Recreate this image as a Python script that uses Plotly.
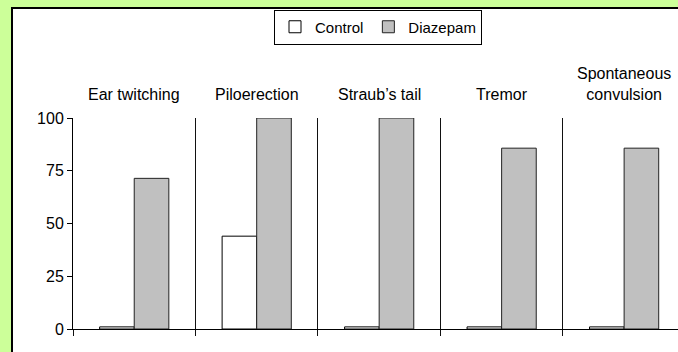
import plotly.graph_objects as go

categories = ["Ear twitching", "Piloerection", "Straub\u2019s tail", "Tremor", "Spontaneous<br>convulsion"]
control = [1, 44, 1, 1, 1]
diazepam = [71.4, 100, 100, 85.7, 85.7]
y_ticks = [0, 25, 50, 75, 100]

W, H = 678, 352
ML, MR, MT, MB = 73, 0, 118, 23
PW = W - ML - MR
PH = H - MT - MB

FONT = "Liberation Sans, Arial, sans-serif"

fig = go.Figure()
fig.add_trace(go.Bar(x=categories, y=control, name="Control",
                     marker=dict(color="white", line=dict(color="black", width=1))))
fig.add_trace(go.Bar(x=categories, y=diazepam, name="Diazepam",
                     marker=dict(color="#c0c0c0", line=dict(color="#222222", width=1))))

def px_x(p):
    return (p - ML) / PW

def px_y(p):
    return (H - MB - p) / PH

# white inner frame (left and top edges visible, rest runs off the page)
fig.add_shape(type="rect", xref="paper", yref="paper",
              x0=px_x(12), x1=px_x(W), y0=px_y(H), y1=px_y(8),
              line=dict(width=0), fillcolor="white", layer="below")
fig.add_shape(type="line", xref="paper", yref="paper",
              x0=px_x(12), x1=px_x(12), y0=px_y(H), y1=px_y(8),
              line=dict(color="black", width=2), layer="below")
fig.add_shape(type="line", xref="paper", yref="paper",
              x0=px_x(11), x1=px_x(W), y0=px_y(8), y1=px_y(8),
              line=dict(color="black", width=2), layer="below")

for c in categories:
    fig.add_annotation(x=c, xref="x", y=px_y(105), yref="paper", yanchor="bottom",
                       text=c, showarrow=False, font=dict(size=16, color="black", family=FONT))

fig.update_layout(
    width=W, height=H,
    margin=dict(l=ML, r=MR, t=MT, b=MB),
    paper_bgcolor="#ccff99", plot_bgcolor="white",
    barmode="group", bargap=0.435, bargroupgap=0,
    font=dict(family=FONT, size=16, color="black"),
    showlegend=True,
    legend=dict(orientation="h", x=px_x(378), xanchor="center", y=px_y(27), yanchor="middle",
                bgcolor="white", bordercolor="black", borderwidth=1,
                font=dict(size=15), itemwidth=30, traceorder="normal"),
    xaxis=dict(type="category", range=[-0.5, 4.44], showticklabels=False,
               tickson="boundaries", ticks="outside", ticklen=6, tickcolor="#111",
               showgrid=True, gridcolor="#111", gridwidth=1,
               showline=True, linecolor="black", linewidth=1, zeroline=False),
    yaxis=dict(range=[0, 100], tickvals=y_ticks, ticks="outside", ticklen=5,
               tickcolor="black", showgrid=False, showline=True, linecolor="black",
               linewidth=1, zeroline=False, tickfont=dict(size=16)),
)

fig.write_html("out.html", config={"displayModeBar": False},
               post_script="document.body.style.margin='0';document.body.style.overflow='hidden';")
